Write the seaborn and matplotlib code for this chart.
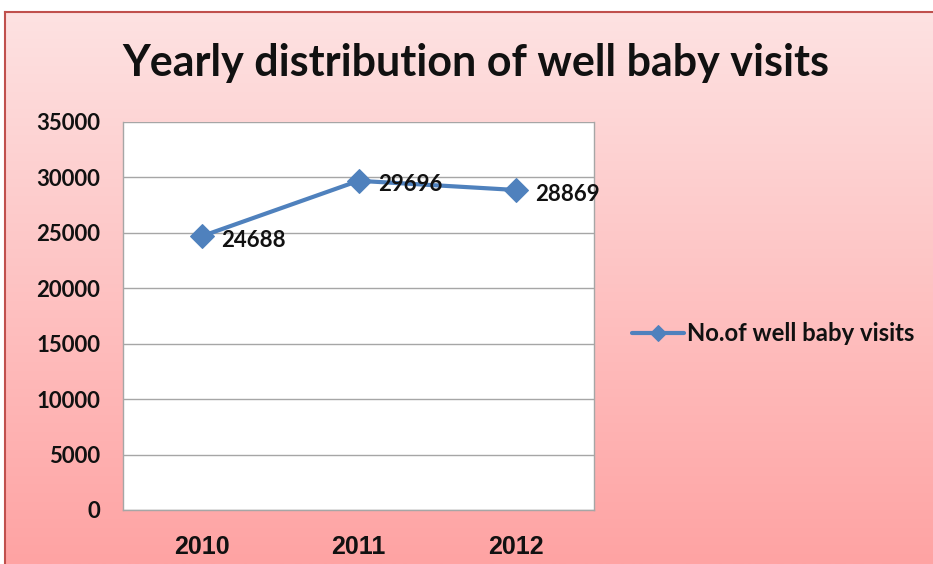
import numpy as np
import pandas as pd
import matplotlib.pyplot as plt
import seaborn as sns

# data
years = ["2010", "2011", "2012"]
visits = [24688, 29696, 28869]
y_ticks = [0, 5000, 10000, 15000, 20000, 25000, 30000, 35000]
series_name = "No.of well baby visits"

LINE_BLUE = "#4F81BD"
TEXT = "#111111"

sns.set_style("white")
plt.rcParams["font.family"] = ["Lato", "DejaVu Sans"]

df = pd.DataFrame({"Year": years, "Visits": visits})

fig = plt.figure(figsize=(9.33, 5.64), dpi=100)
fig.patch.set_facecolor("white")

# pink gradient background panel
bg = fig.add_axes([5 / 933, 0, 1 - 5 / 933, 1 - 12 / 564])
grad = np.linspace(0, 1, 256)[:, None, None]
top = np.array([253, 226, 226]) / 255
bot = np.array([255, 163, 163]) / 255
img = top + (bot - top) * grad
bg.imshow(img, aspect="auto", extent=[0, 1, 0, 1], origin="upper")
bg.set_xlim(0, 1)
bg.set_ylim(0, 1)
bg.set_xticks([])
bg.set_yticks([])
for side, sp in bg.spines.items():
    sp.set_visible(side in ("top", "left"))
    sp.set_color("#C0504D")
    sp.set_linewidth(1.5)

# plot area
ax = fig.add_axes([123 / 933, 1 - 510 / 564, (594 - 123) / 933, (510 - 122) / 564])
ax.set_facecolor("white")
sns.lineplot(data=df, x="Year", y="Visits", ax=ax, color=LINE_BLUE,
             linewidth=3, marker="D", markersize=12, markeredgecolor=LINE_BLUE,
             label=series_name, sort=False)

for i, v in enumerate(visits):
    ax.annotate(f"{v}", (i, v), xytext=(14, -3), textcoords="offset points",
                ha="left", va="center", fontsize=16, fontweight="bold", color=TEXT)

ax.set_xlim(-0.5, 2.5)
ax.set_ylim(0, 35000)
ax.set_yticks(y_ticks, labels=[str(t) for t in y_ticks], fontsize=16,
              fontweight="bold", color=TEXT)
ax.set_xticks(range(len(years)), labels=years, fontsize=18, fontweight="bold",
              color=TEXT, family=["Liberation Sans", "DejaVu Sans"])
ax.yaxis.grid(True, color="#A6A6A6", linewidth=1)
ax.set_axisbelow(True)
ax.set_xlabel("")
ax.set_ylabel("")
ax.tick_params(axis="y", length=0, pad=16.5)
ax.tick_params(axis="x", length=0, pad=18)
for sp in ax.spines.values():
    sp.set_color("#A6A6A6")
    sp.set_linewidth(1)
ax.spines["top"].set_visible(False)

leg = ax.legend(loc="center left", bbox_to_anchor=(1.08, 0.455), frameon=False,
                handlelength=2.2, handletextpad=0.1, borderaxespad=0,
                borderpad=0, prop={"weight": "bold", "size": 17.2})
leg.legend_handles[0].set_markersize(8)
for t in leg.get_texts():
    t.set_color(TEXT)

fig.text(0.510, 1 - 63 / 564, "Yearly distribution of well baby visits",
         ha="center", va="center", fontsize=31, fontweight="bold", color=TEXT)

fig.savefig("out.png", dpi=100)
